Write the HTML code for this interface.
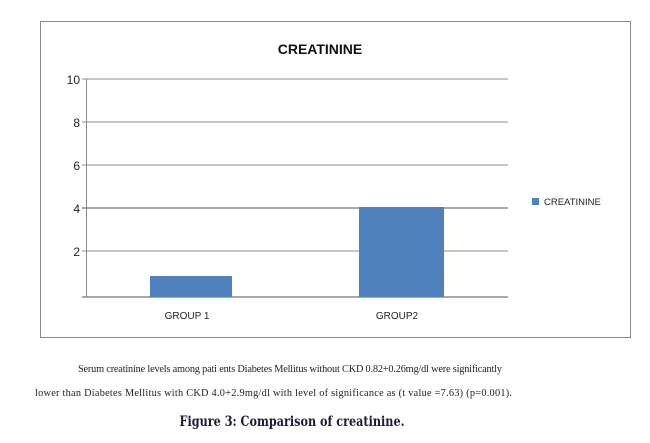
<!DOCTYPE html>
<html><head><style>
body{margin:0;background:#fff;}
</style></head><body>
<svg width="650" height="443" xmlns="http://www.w3.org/2000/svg" style="display:block">
<rect x="40.5" y="21.5" width="590" height="316" fill="#fff" stroke="#8a8a8a" stroke-width="1"/>
<text x="320" y="54" font-family="Liberation Sans, sans-serif" font-weight="bold" font-size="14" text-anchor="middle" fill="#111">CREATININE</text>
<g stroke="#8c8c8c" stroke-width="1">
<line x1="82" y1="79" x2="508" y2="79"/>
<line x1="82" y1="122" x2="508" y2="122"/>
<line x1="82" y1="165" x2="508" y2="165"/>
<line x1="82" y1="208" x2="508" y2="208" stroke-width="1.5"/>
<line x1="82" y1="251" x2="508" y2="251"/>
<line x1="82" y1="297" x2="508" y2="297" stroke-width="1.5"/>
<line x1="86.5" y1="79" x2="86.5" y2="297"/>
</g>
<rect x="150" y="276" width="82" height="21" fill="#4f81bd"/>
<rect x="359" y="207" width="85" height="90" fill="#4f81bd"/>
<g font-family="Liberation Sans, sans-serif" font-size="12" fill="#222" text-anchor="end">
<text x="80" y="84">10</text>
<text x="80" y="127">8</text>
<text x="80" y="170">6</text>
<text x="80" y="213">4</text>
<text x="80" y="256">2</text>
</g>
<g font-family="Liberation Sans, sans-serif" font-size="10" fill="#222" text-anchor="middle">
<text x="187" y="319">GROUP  1</text>
<text x="397" y="319">GROUP2</text>
</g>
<rect x="532" y="198" width="7" height="7" fill="#4f81bd"/>
<text x="544" y="205" font-family="Liberation Sans, sans-serif" font-size="9.5" fill="#222">CREATININE</text>
<text x="78" y="372" font-family="Liberation Serif, serif" font-size="10.3" fill="#222" textLength="424" lengthAdjust="spacing">Serum creatinine levels among pati ents Diabetes Mellitus without CKD 0.82+0.26mg/dl were significantly</text>
<text x="35" y="396" font-family="Liberation Serif, serif" font-size="10.3" fill="#222" textLength="477" lengthAdjust="spacing">lower than Diabetes Mellitus with CKD 4.0+2.9mg/dl with level of significance as (t value =7.63) (p=0.001).</text>
<text x="292" y="426" font-family="DejaVu Serif, serif" font-weight="bold" font-size="14" fill="#1a1a33" text-anchor="middle" textLength="225" lengthAdjust="spacingAndGlyphs">Figure 3: Comparison of creatinine.</text>
</svg>
</body></html>
